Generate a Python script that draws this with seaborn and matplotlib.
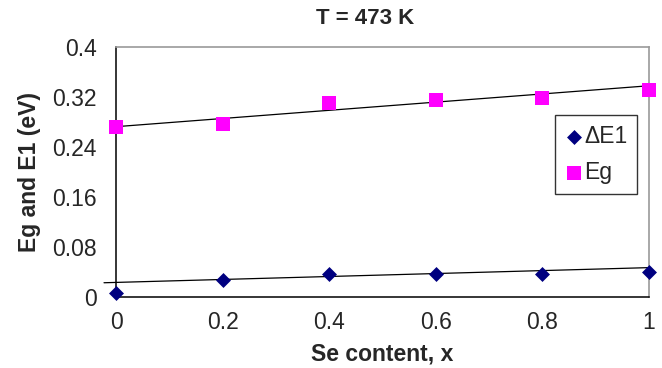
import matplotlib
matplotlib.use("Agg")
import matplotlib.pyplot as plt
import seaborn as sns
import pandas as pd

# ---- data ----
se_content = [0.0, 0.2, 0.4, 0.6, 0.8, 1.0]
delta_e1 = [0.007, 0.028, 0.037, 0.037, 0.037, 0.040]
eg = [0.2725, 0.276, 0.310, 0.316, 0.319, 0.331]

# linear trend lines (end points)
de1_trend_x = [-0.0225, 1.0]
de1_trend_y = [0.0228, 0.047]
eg_trend_x = [0.0, 1.0]
eg_trend_y = [0.2725, 0.338]

yticks = [0, 0.08, 0.16, 0.24, 0.32, 0.4]
ytick_labels = ["0", "0.08", "0.16", "0.24", "0.32", "0.4"]
xticks = [0, 0.2, 0.4, 0.6, 0.8, 1.0]
xtick_labels = ["0", "0.2", "0.4", "0.6", "0.8", "1"]

sns.set_style("white")
plt.rcParams["font.family"] = ["Liberation Sans", "DejaVu Sans"]

fig = plt.figure(figsize=(6.62, 3.68), dpi=100)
ax = fig.add_axes([116 / 662, 1 - 297 / 368, (649 - 116) / 662, (297 - 47) / 368])

df_de1 = pd.DataFrame({"x": se_content, "y": delta_e1})
df_eg = pd.DataFrame({"x": se_content, "y": eg})

sns.lineplot(x=de1_trend_x, y=de1_trend_y, ax=ax, color="black", lw=0.9,
             clip_on=False, zorder=2)
sns.lineplot(x=eg_trend_x, y=eg_trend_y, ax=ax, color="black", lw=0.9,
             clip_on=False, zorder=2)

sns.scatterplot(data=df_de1, x="x", y="y", ax=ax, marker="D", s=58,
                color="#000080", edgecolor="#000080", linewidth=0,
                label="\u0394E1", clip_on=False, zorder=3)
sns.scatterplot(data=df_eg, x="x", y="y", ax=ax, marker="s", s=100,
                color="#FF00FF", edgecolor="#FF00FF", linewidth=0,
                label="Eg", clip_on=False, zorder=3)

ax.set_xlim(0, 1)
ax.set_ylim(0, 0.4)
ax.set_xticks(xticks)
ax.set_xticklabels(xtick_labels)
ax.set_yticks(yticks)
ax.set_yticklabels(ytick_labels)
ax.tick_params(axis="both", direction="out", length=5, width=1, color="black",
               labelsize=16.5, pad=5)
ax.tick_params(axis="y", pad=9)

for side in ["left", "bottom"]:
    ax.spines[side].set_color("black")
    ax.spines[side].set_linewidth(1.1)
for side in ["top", "right"]:
    ax.spines[side].set_color("#9a9a9a")
    ax.spines[side].set_linewidth(1.2)

ax.set_xlabel("Se content, x", fontsize=16.5, fontweight="bold", labelpad=6)
ax.set_ylabel("Eg and E1 (eV)", fontsize=16.5, fontweight="bold", labelpad=8)

fig.text(365 / 662, 1 - 19 / 368, "T = 473 K", ha="center", va="center",
         fontsize=16, fontweight="bold")

leg = ax.legend(loc="upper left", bbox_to_anchor=((555 - 116) / (649 - 116), (297 - 115) / 250),
                frameon=True, fancybox=False, shadow=False, fontsize=16.5,
                handletextpad=0.0, borderpad=0.42, labelspacing=0.6,
                handlelength=0.85, borderaxespad=0)
leg.get_frame().set_edgecolor("black")
leg.get_frame().set_linewidth(1.0)

fig.savefig("out.png", dpi=100)
